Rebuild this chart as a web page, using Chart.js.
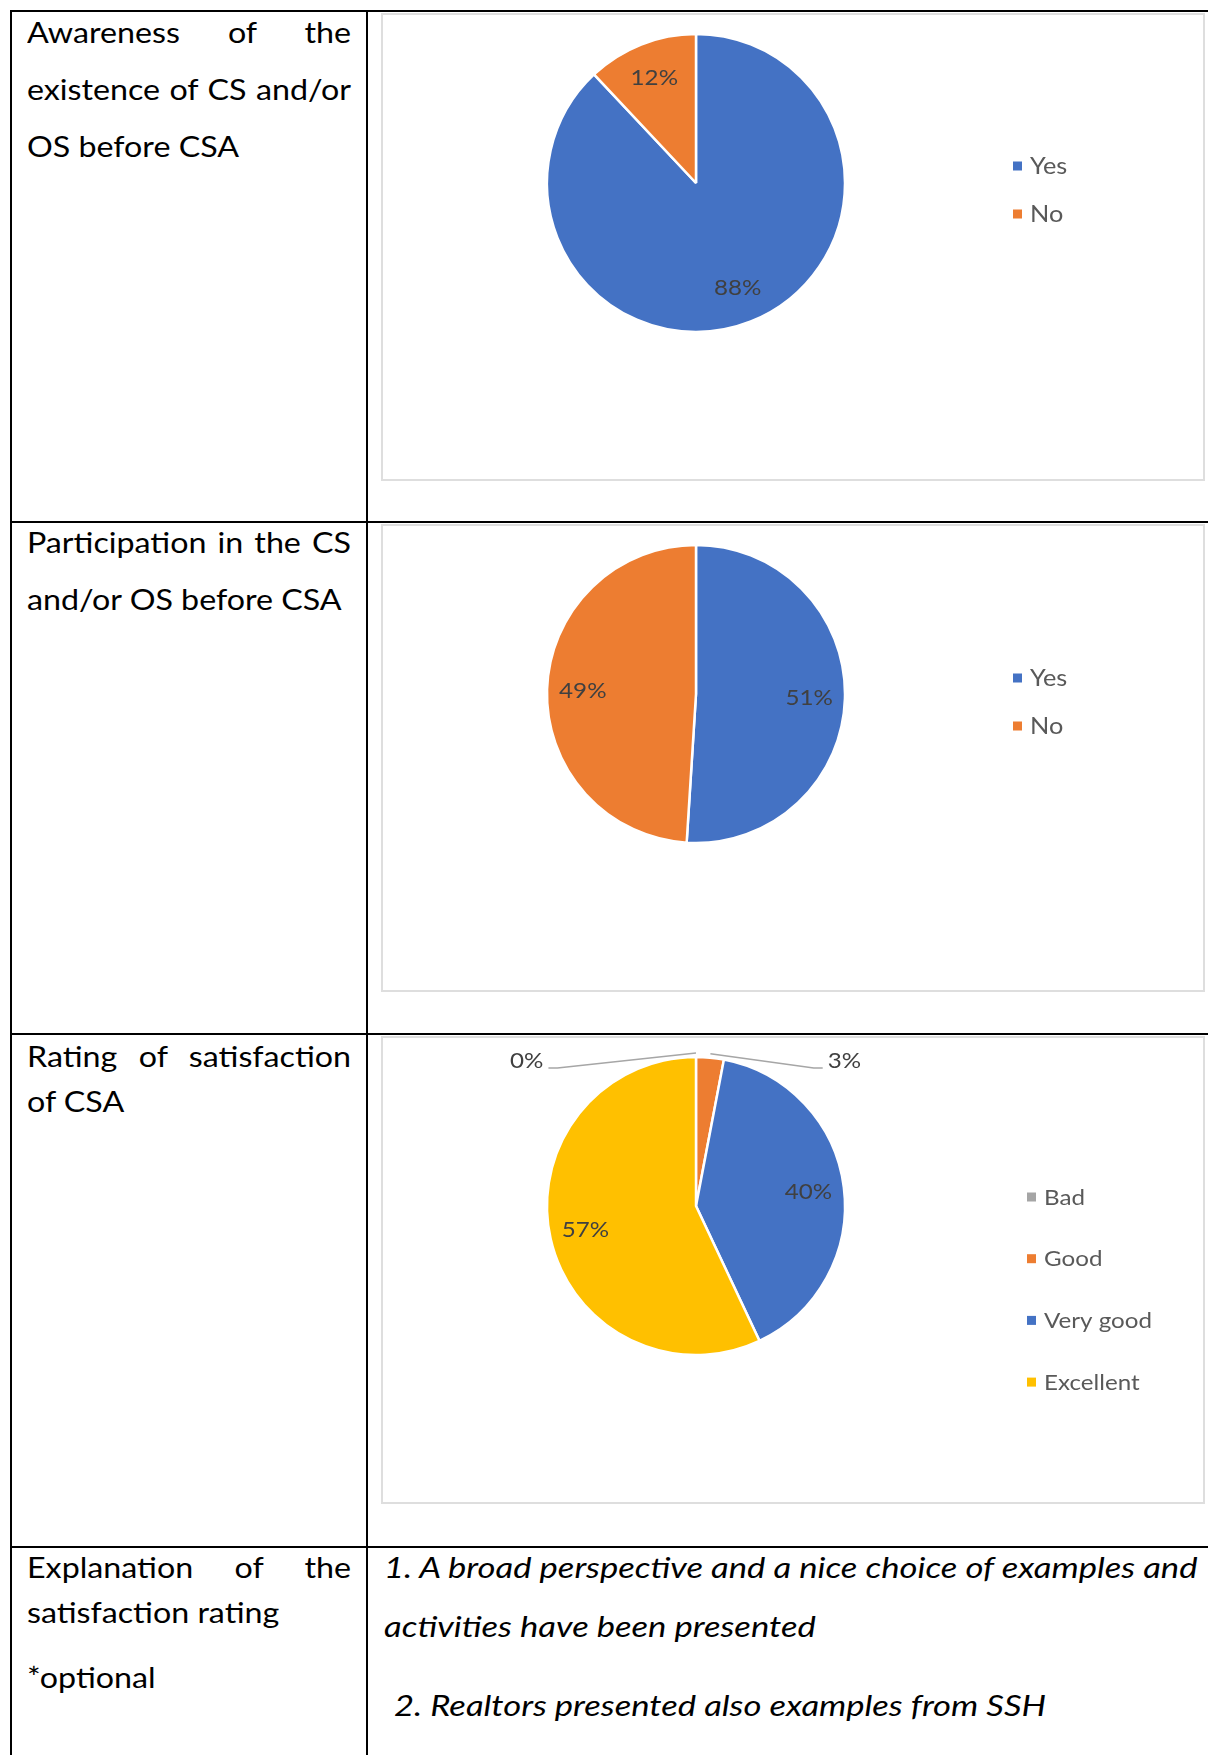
<!DOCTYPE html>
<html>
<head>
<meta charset="utf-8">
<title>CSA survey</title>
<script src="https://cdn.jsdelivr.net/npm/chart.js@4.4.1/dist/chart.umd.min.js"></script>
<style>
  body { margin: 0; width: 1208px; height: 1755px; overflow: hidden; background: #fff; position: relative; font-family: Lato, sans-serif; }
  .rule { position: absolute; background: #000; }
  .frame { position: absolute; left: 381px; width: 820px; height: 464px; border: 2px solid #dedede; }
  .chart { position: absolute; left: 381px; }
  .txt { position: absolute; font-size: 28px; color: #000; white-space: nowrap; transform-origin: 0 0; }
  .txt.just { text-align: justify; text-align-last: justify; white-space: normal; }
  .txt.it { font-style: italic; }
</style>
</head>
<body>
<div id="page"></div>
<script>
// survey answers, in percent
const awarenessLabels = ["Yes", "No"];
const awarenessValues = [88, 12];
const participationLabels = ["Yes", "No"];
const participationValues = [51, 49];
const ratingLabels = ["Bad", "Good", "Very good", "Excellent"];
const ratingValues = [0, 3, 40, 57];

const yesNoColors = ["#4472C4", "#ED7D31"];
const ratingColors = ["#A5A5A5", "#ED7D31", "#4472C4", "#FFC000"];

const page = document.getElementById("page");

// table rules
function rule(x, y, w, h) {
  const d = document.createElement("div");
  d.className = "rule";
  Object.assign(d.style, { left: x + "px", top: y + "px", width: w + "px", height: h + "px" });
  page.appendChild(d);
}
rule(10, 10, 1198, 2);
rule(10, 10, 2, 1745);
rule(366, 10, 2, 1745);
rule(10, 521, 1198, 2);
rule(10, 1033, 1198, 2);
rule(10, 1546, 1198, 2);

// place a line of text so that its baseline lands on y; the document font
// runs a little wide, hence the horizontal stretch
const probe = document.createElement("canvas").getContext("2d");
function text(str, x, baseline, cls, stretch) {
  probe.font = (cls.includes("it") ? "italic " : "") + "28px Lato";
  const m = probe.measureText("Hg");
  const asc = m.fontBoundingBoxAscent, desc = m.fontBoundingBoxDescent;
  const lh = 40;
  const d = document.createElement("div");
  d.className = "txt " + cls;
  d.style.lineHeight = lh + "px";
  d.style.left = x + "px";
  d.style.top = (baseline - (lh - asc - desc) / 2 - asc) + "px";
  d.style.transform = "scaleX(" + stretch + ")";
  if (cls.includes("just")) d.style.width = (324 / stretch) + "px";
  d.textContent = str;
  page.appendChild(d);
}

const leftStretch = 1.15, noteStretch = 1.235;
text("Awareness of the", 27, 43, "just", leftStretch);
text("existence of CS and/or", 27, 100, "just", leftStretch);
text("OS before CSA", 27, 157, "", leftStretch);
text("Participation in the CS", 27, 553, "just", leftStretch);
text("and/or OS before CSA", 27, 610, "", leftStretch);
text("Rating of satisfaction", 27, 1067, "just", leftStretch);
text("of CSA", 27, 1112, "", leftStretch);
text("Explanation of the", 27, 1578, "just", leftStretch);
text("satisfaction rating", 27, 1623, "", leftStretch);
text("*optional", 27, 1688, "", leftStretch);
text("1. A broad perspective and a nice choice of examples and", 384, 1578, "it", noteStretch);
text("activities have been presented", 384, 1637, "it", noteStretch);
text("2. Realtors presented also examples from SSH", 394, 1716, "it", noteStretch);

function wideText(ctx, str, x, y, stretch) {
  ctx.save();
  ctx.translate(x, y);
  ctx.scale(stretch, 1);
  ctx.fillText(str, 0, 0);
  ctx.restore();
}

// percentage labels inside the slices, small ones pulled out on leader lines,
// plus a square-marker legend on the right
const pieLabels = {
  id: "pieLabels",
  afterDatasetsDraw(chart, args, opts) {
    const ctx = chart.ctx;
    const meta = chart.getDatasetMeta(0);
    const ds = chart.data.datasets[0];
    ctx.save();
    ctx.font = opts.fontSize + "px Lato";
    ctx.fillStyle = "#404040";
    ctx.textBaseline = "middle";
    let outside = 0;
    meta.data.forEach((arc, i) => {
      const p = arc.getProps(["x", "y", "startAngle", "endAngle", "outerRadius"], true);
      const mid = (p.startAngle + p.endAngle) / 2;
      const label = ds.data[i] + "%";
      if (ds.data[i] >= 5) {
        const r = p.outerRadius * 0.76;
        ctx.textAlign = "center";
        wideText(ctx, label, p.x + Math.cos(mid) * r, p.y + Math.sin(mid) * r, opts.stretch);
      } else {
        const side = outside++ % 2 === 0 ? -1 : 1;
        const sx = p.x + Math.cos(mid) * (p.outerRadius + 4);
        const sy = p.y + Math.sin(mid) * (p.outerRadius + 4);
        const ey = p.y - p.outerRadius * 0.926;
        const ex = p.x + side * p.outerRadius * (side < 0 ? 0.93 : 0.79);
        const tx = ex + side * 9;
        ctx.strokeStyle = "#a6a6a6";
        ctx.lineWidth = 1.5;
        ctx.beginPath();
        ctx.moveTo(sx, sy);
        ctx.lineTo(ex, ey);
        ctx.lineTo(tx, ey);
        ctx.stroke();
        ctx.textAlign = side < 0 ? "right" : "left";
        wideText(ctx, label, tx + side * 5, ey - 7, opts.stretch);
      }
    });

    ctx.font = opts.legendSize + "px Lato";
    ctx.textAlign = "left";
    chart.data.labels.forEach((name, i) => {
      const y = opts.legendY + i * opts.legendGap;
      ctx.fillStyle = ds.backgroundColor[i];
      ctx.fillRect(opts.legendX, y - 4.5, 9, 9);
      ctx.fillStyle = "#595959";
      wideText(ctx, name, opts.legendX + 17, y + 1, opts.stretch);
    });
    ctx.restore();
  }
};

function pie(top, labels, values, colors, legend) {
  const frame = document.createElement("div");
  frame.className = "frame";
  frame.style.top = top + "px";
  page.appendChild(frame);

  const canvas = document.createElement("canvas");
  canvas.className = "chart";
  canvas.width = 824;
  canvas.height = 468;
  canvas.style.top = top + "px";
  page.appendChild(canvas);

  return new Chart(canvas, {
    type: "pie",
    data: {
      labels: labels,
      datasets: [{
        data: values,
        backgroundColor: colors,
        borderColor: "#ffffff",
        borderWidth: 2.5,
        radius: 149
      }]
    },
    options: {
      responsive: false,
      animation: false,
      events: [],
      layout: { padding: { left: 165, right: 359, top: 20, bottom: 148 } },
      plugins: {
        legend: { display: false },
        tooltip: { enabled: false },
        pieLabels: legend
      }
    },
    plugins: [pieLabels]
  });
}

pie(13, awarenessLabels, awarenessValues, yesNoColors,
  { fontSize: 22, legendSize: 23, legendX: 632, legendY: 153, legendGap: 48, stretch: 1.1 });
pie(524, participationLabels, participationValues, yesNoColors,
  { fontSize: 22, legendSize: 23, legendX: 632, legendY: 154, legendGap: 48, stretch: 1.1 });
pie(1036, ratingLabels, ratingValues, ratingColors,
  { fontSize: 21, legendSize: 21, legendX: 646, legendY: 161, legendGap: 61.7, stretch: 1.15 });
</script>
</body>
</html>
